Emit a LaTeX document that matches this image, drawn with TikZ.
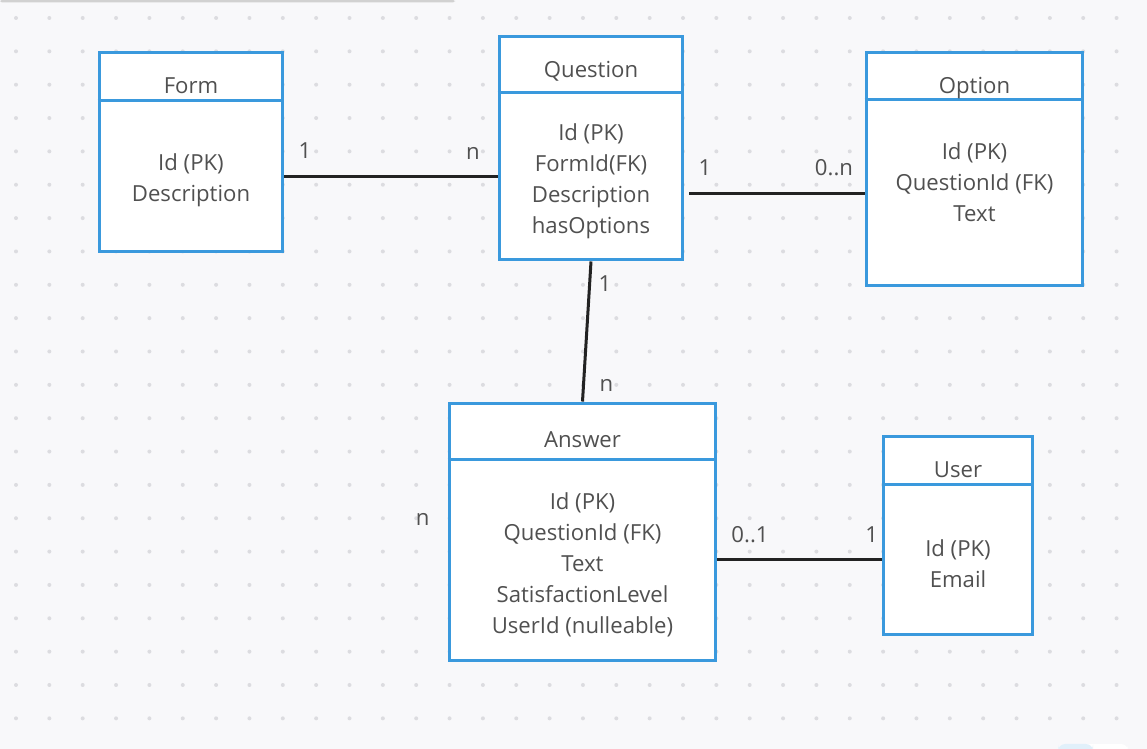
\documentclass[tikz,border=0pt]{standalone}
\usepackage{fontspec}
\setmainfont{Open Sans}
\usepackage{tikz}
\usetikzlibrary{positioning}
\definecolor{canvas}{HTML}{F8F8FA}
\definecolor{griddot}{HTML}{DCDCE0}
\definecolor{boxblue}{HTML}{3A99DD}
\definecolor{inkgray}{HTML}{505050}
\definecolor{relline}{HTML}{222222}

\begin{document}
\begin{tikzpicture}[x=0.02cm,y=-0.02cm,
    entity/.style={draw=boxblue, line width=0.06cm, fill=white, inner sep=0pt},
    divider/.style={draw=boxblue, line width=0.06cm},
    title/.style={text=inkgray, anchor=base, font=\fontsize{12.6}{17.6}\selectfont},
    attrs/.style={text=inkgray, align=center, font=\fontsize{12.6}{17.6}\selectfont},
    card/.style={text=inkgray, anchor=base, font=\fontsize{12.6}{17.6}\selectfont},
    rel/.style={draw=relline, line width=0.06cm}]
        % Canvas
        \useasboundingbox (0,0) rectangle (1147,749);
        \fill[canvas] (0,0) rectangle (1147,749);
        \foreach \i in {0,...,33}
            \foreach \j in {0,...,21}
                \fill[griddot] (16+33.35*\i,18+33.35*\j) circle (2);
        \fill[black!18, rounded corners=1pt] (0,0) rectangle (455,2.5);
        \fill[white, rounded corners=4pt] (1058,744) rectangle (1128,752);
        \fill[boxblue!15, rounded corners=4pt] (1058,744) rectangle (1093,752);
        % Form
        \node[entity, minimum width=3.68cm, minimum height=4cm] (form) at (191,152) {};
        \draw[divider] ([yshift=-1cm]form.north west) -- ([yshift=-1cm]form.north east);
        \node[title] (formTitle) at (191,94) {Form};
        \node[attrs] (formAttrs) at (191,180) {Id (PK)\\Description};
        % Question
        \node[entity, minimum width=3.68cm, minimum height=4.48cm] (question) at (591,148) {};
        \draw[divider] ([yshift=-1.16cm]question.north west) -- ([yshift=-1.16cm]question.north east);
        \node[title] (questionTitle) at (591,78) {Question};
        \node[attrs] (questionAttrs) at (591,181) {Id (PK)\\FormId(FK)\\Description\\hasOptions};
        % Option
        \node[entity, minimum width=4.34cm, minimum height=4.68cm] (option) at (974.5,169) {};
        \draw[divider] ([yshift=-0.98cm]option.north west) -- ([yshift=-0.98cm]option.north east);
        \node[title] (optionTitle) at (974.5,94) {Option};
        \node[attrs] (optionAttrs) at (974.5,182) {Id (PK)\\QuestionId (FK)\\Text};
        % Answer
        \node[entity, minimum width=5.34cm, minimum height=5.16cm] (answer) at (582.5,532) {};
        \draw[divider] ([yshift=-1.16cm]answer.north west) -- ([yshift=-1.16cm]answer.north east);
        \node[title] (answerTitle) at (582.5,448) {Answer};
        \node[attrs] (answerAttrs) at (582.5,565) {Id (PK)\\QuestionId (FK)\\Text\\SatisfactionLevel\\UserId (nulleable)};
        % User
        \node[entity, minimum width=3cm, minimum height=3.98cm] (user) at (958,535.5) {};
        \draw[divider] ([yshift=-1cm]user.north west) -- ([yshift=-1cm]user.north east);
        \node[title] (userTitle) at (958,478) {User};
        \node[attrs] (userAttrs) at (958,564) {Id (PK)\\Email};
        % Relations
        \coordinate (fq) at (0,177);
        \coordinate (qo) at (0,194);
        \coordinate (au) at (0,560);
        \draw[rel] (form.east |- fq) -- (question.west |- fq);
        \draw[rel, shorten <=0.1cm] (question.east |- qo) -- (option.west |- qo);
        \draw[rel] (question.south) -- (answer.north);
        \draw[rel] (answer.east |- au) -- (user.west |- au);
        % Cardinalities
        \node[card] (fqOne) at (305,159) {1};
        \node[card] (fqMany) at (473,159.5) {n};
        \node[card] (qoOne) at (705,176) {1};
        \node[card] (qoMany) at (834,176) {0..n};
        \node[card] (qaOne) at (605,292) {1};
        \node[card] (qaMany) at (606.5,392) {n};
        \node[card] (auOpt) at (750,542.7) {0..1};
        \node[card] (auOne) at (871.7,542.7) {1};
        \node[card] (strayMany) at (422.7,526) {n};
    \end{tikzpicture}
\end{document}
